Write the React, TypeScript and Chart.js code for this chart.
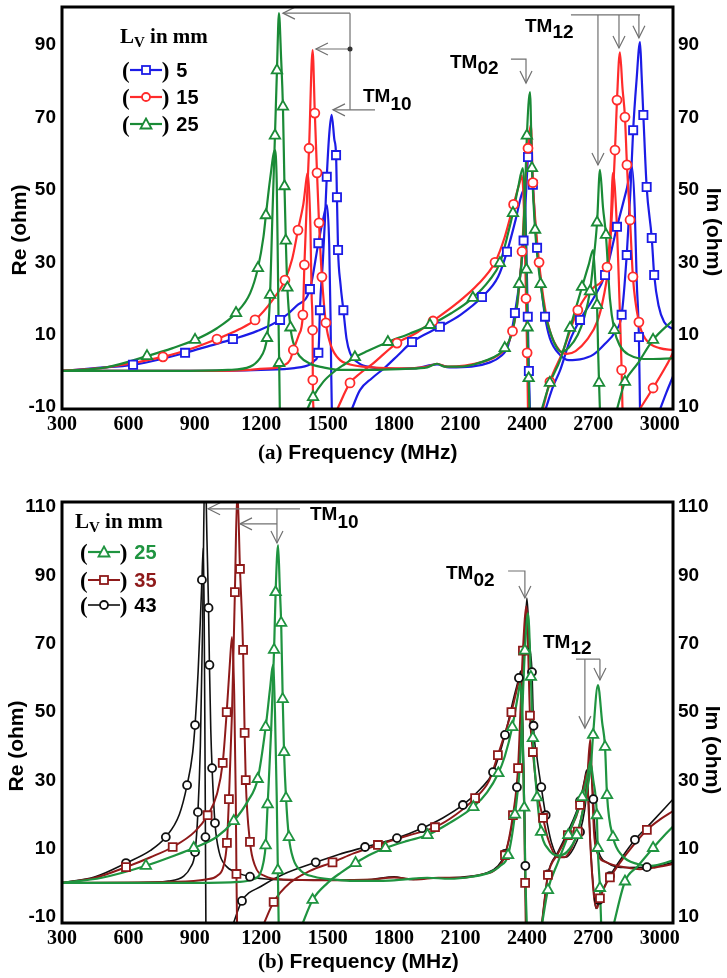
import { useEffect, useRef } from "react";
import { Chart, registerables } from "chart.js";

Chart.register(...registerables);

// [frequency MHz, ohm, sampled-symbol flag]
type Pt = [number, number | null, number?];

const X_TICKS = [300, 600, 900, 1200, 1500, 1800, 2100, 2400, 2700, 3000];
const A_Y_TICKS = [-10, 10, 30, 50, 70, 90];
const B_Y_TICKS = [-10, 10, 30, 50, 70, 90, 110];
const A_LV = ["5", "15", "25"];
const B_LV = ["25", "35", "43"];

// ---------- (a) Lv = 25 ----------
const A25_RE: Pt[] = [[300,0],[800,0],[1050,0.3],[1150,1.2],[1194,3.5],[1215,6],[1226,9.1,1],[1235,15],[1240,21,1],[1250,42],[1262,65,1],[1271,83,1],[1280,98.8],[1290,86],[1298,73,1],[1305,51,1],[1311,36,1],[1318,23,1],[1332,12,1],[1352,6.5],[1375,4],[1420,2],[1480,1],[1560,0.3],[1700,0.3],[1850,0.6],[1950,1],[1994,2],[2030,1.2],[2100,1.2],[2160,1.8],[2220,3],[2270,4.5],[2300,6.3,1],[2330,10],[2355,18],[2365,24,1],[2378,31.5],[2392,50],[2400,65,1],[2414,77],[2423,56,1],[2437,39,1],[2450,30],[2462,24,1],[2482,16],[2504,11],[2530,7],[2555,5.3],[2590,6.5],[2630,10],[2660,15],[2685,22,1],[2700,30],[2717,41,1],[2730,55.5],[2744,45],[2757,37.6,1],[2775,20],[2795,11.3,1],[2820,7],[2860,4.5],[2956,3.3],[3060,3.5]];
const A25_IM: Pt[] = [[300,0],[500,1],[684,4.1,1],[800,6.3],[901,8.6,1],[1000,11.8],[1086,16,1],[1150,21.5],[1185,28.4,1],[1210,37],[1221,43,1],[1240,53],[1262,61],[1270,52],[1275,30],[1279,10],[1281,2.2,1],[1284,-11],[1300,null],[1405,-11],[1434,-7.2,1],[1480,-3],[1533,0],[1580,2],[1623,3.8,1],[1680,5.5],[1772,8,1],[1870,10.3],[1962,12.7,1],[2060,16],[2156,20.2,1],[2230,25],[2278,29.8,1],[2315,38],[2337,43.6,1],[2360,50.5],[2382,56],[2392,45],[2398,28,1],[2403,12,1],[2408,-2,1],[2412,-11],[2440,null],[2465,-11],[2504,-3.3,1],[2550,3],[2595,11.9,1],[2649,23.2,1],[2680,29.5],[2699,33.4],[2710,24],[2717,18.2,1],[2722,5],[2726,-3.3,1],[2730,-11],[2760,null],[2805,-11],[2843,-3,1],[2900,2],[2970,8.6,1],[3060,14]];

// ---------- (a) Lv = 15 ----------
const A15_RE: Pt[] = [[300,0],[900,0],[1150,0.3],[1194,0.6],[1260,0.8],[1300,1.5],[1330,3],[1345,5.8,1],[1370,10],[1388,15.5,1],[1395,29.3,1],[1405,45],[1416,61.5,1],[1432,88.6],[1442,71.2,1],[1452,54.7,1],[1461,40.9,1],[1474,26,1],[1492,13.3,1],[1515,7],[1556,3],[1601,1.8],[1700,1],[1850,0.7],[1950,1.2],[1994,2],[2040,1.2],[2120,1.5],[2200,2.5],[2260,4],[2300,6],[2335,11,1],[2360,20],[2378,33,1],[2396,55],[2405,61.5,1],[2418,68],[2427,52,1],[2440,40],[2455,30,1],[2475,20],[2504,11],[2549,5.5],[2580,4.7],[2620,5.5],[2670,8.5],[2720,14],[2745,20],[2770,30],[2790,50],[2798,61,1],[2807,74.8,1],[2820,88],[2832,78],[2843,70.1,1],[2852,56.9,1],[2866,41.7,1],[2879,26,1],[2906,13.5,1],[2940,8.5],[3000,6.3],[3060,5.8]];
const A15_IM: Pt[] = [[300,0],[500,1],[756,3.9,1],[900,6.5],[1000,8.8,1],[1100,11.5],[1172,14.1,1],[1250,19.5],[1307,25.1,1],[1340,31],[1366,38.9,1],[1390,46],[1411,54.7],[1422,40],[1428,20],[1432,11.3,1],[1433,-2.5,1],[1436,-11],[1480,null],[1540,-11],[1601,-3.3,1],[1650,-0.5],[1700,1.8],[1813,7.7,1],[1900,10.5],[1976,13.8,1],[2080,18.5],[2180,24],[2256,30,1],[2300,37],[2340,46,1],[2365,51.5],[2378,54],[2388,42],[2396,20,1],[2401,5,1],[2405,-11],[2440,null],[2470,-11],[2504,-3,1],[2560,5],[2630,16.8,1],[2700,23],[2762,28.7,1],[2778,40],[2789,54.7],[2805,42],[2818,20],[2828,0.3,1],[2832,-11],[2870,null],[2905,-11],[2970,-4.7,1],[3030,1.5],[3060,5]];

// ---------- (a) Lv = 5 ----------
const A5_RE: Pt[] = [[300,0],[900,0],[1200,0.3],[1350,0.8],[1420,1.8],[1443,3],[1458,5,1],[1462,10],[1465,16.8,1],[1478,30],[1488,42],[1496,53.6,1],[1508,66],[1518,70.7],[1530,64],[1538,59.6,1],[1542,48,1],[1547,33.4,1],[1558,24],[1571,16.8,1],[1585,9],[1601,5],[1640,2.2],[1700,1],[1800,0.6],[1900,0.8],[1994,1.8],[2050,1],[2150,1.2],[2230,2.3],[2280,4],[2315,7],[2346,16,1],[2369,26],[2385,36,1],[2397,50],[2405,59.1,1],[2416,65],[2427,51.4,1],[2436,42],[2446,34,1],[2462,25],[2482,15,1],[2504,9],[2549,4.5],[2590,3],[2640,3.2],[2700,4.5],[2753,7.5],[2800,11],[2828,15.5,1],[2851,32,1],[2868,50],[2880,66.5,1],[2895,80],[2911,90.8],[2918,82],[2926,70.7,1],[2941,50.8,1],[2964,36.7,1],[2975,26.5,1],[2995,18],[3020,13.5],[3060,11.5]];
const A5_IM: Pt[] = [[300,0],[450,0.8],[621,1.7,1],[750,3.3],[856,5,1],[970,7],[1072,8.8,1],[1180,11],[1285,14.1,1],[1360,18],[1420,22.6,1],[1458,35.3,1],[1480,42],[1497,45.8],[1507,35],[1513,15],[1516,0],[1519,-11],[1560,null],[1606,-11],[1646,-5.3],[1700,-2],[1760,1],[1820,4.5],[1881,8,1],[2007,12.2,1],[2100,15.5],[2197,20.4,1],[2270,26],[2310,32.9,1],[2350,42],[2375,48.5],[2387,50],[2397,35],[2404,15,1],[2409,0,1],[2414,-11],[2450,null],[2482,-11],[2520,-4],[2549,0],[2595,8.5],[2640,14.1,1],[2700,20],[2753,26.5,1],[2807,39.8,1],[2850,50],[2875,56.3],[2887,45],[2896,25],[2906,9.4,1],[2911,-11],[2950,null],[2999,-11],[3030,-6],[3060,-1.5]];

// ---------- (b) Lv = 25 ----------
const B25_RE: Pt[] = [[300,0],[900,0],[1100,0.3],[1160,1],[1194,2.5],[1210,6],[1220,11,1],[1229,23,1],[1245,45],[1258,68.2,1],[1265,85.1,1],[1276,98.9],[1284,86],[1290,76.1,1],[1297,53.8,1],[1303,38.3,1],[1312,24.8,1],[1325,13.4,1],[1345,7],[1380,3.5],[1440,1.8],[1520,1],[1600,0.6],[1750,0.6],[1850,1],[1950,1.5],[2050,1.2],[2150,1.8],[2230,3],[2280,5],[2315,8.1,1],[2346,20,1],[2369,35],[2391,68,1],[2405,79],[2418,60.3,1],[2427,42.4,1],[2446,25,1],[2464,14.9,1],[2495,10],[2540,8],[2580,9],[2625,14,1],[2665,25],[2690,35],[2699,43.3,1],[2721,57.9],[2740,47],[2753,39.8,1],[2762,25.7,1],[2789,13.4,1],[2830,8],[2900,5.5],[2960,5],[3060,6.5]];
const B25_IM: Pt[] = [[300,0],[480,1.5],[679,5,1],[800,7.8],[895,10.2,1],[1000,13.5],[1076,18.1,1],[1140,24],[1184,30.4,1],[1220,45.6,1],[1240,57],[1253,63.8],[1262,50],[1270,25],[1275,3.7,1],[1279,-13],[1320,null],[1380,-13],[1432,-5,1],[1500,0],[1560,3],[1626,5.8,1],[1700,8.5],[1761,10.2,1],[1860,12.3],[1951,14,1],[2050,17.5],[2158,22.2,1],[2220,26.5],[2271,32.1,1],[2300,37],[2334,45.6,1],[2360,55],[2370,58.5],[2380,45],[2388,22,1],[2394,0],[2400,-13],[2430,null],[2466,-13],[2495,-2.1,1],[2540,6],[2587,14,1],[2650,25.1,1],[2675,32],[2686,35.4],[2700,30],[2716,19.8,1],[2720,10.2,1],[2730,-1.5,1],[2736,-13],[2760,null],[2789,-13],[2843,0.4,1],[2900,4.8],[2970,10.2,1],[3030,14.5],[3060,16.5]];

// ---------- (b) Lv = 35 ----------
const B35_RE: Pt[] = [[300,0],[800,0.3],[950,1],[1000,2],[1030,5],[1045,11.7,1],[1054,24.5,1],[1068,50],[1081,85.1,1],[1092,115],[1104,91.9,1],[1118,68.2,1],[1125,43.9,1],[1130,30.1,1],[1149,12,1],[1172,5],[1217,2],[1300,1],[1500,0.8],[1700,1],[1800,1.6],[1900,1],[2000,1.5],[2100,1.5],[2200,2.5],[2260,4],[2301,8.1,1],[2337,19.8,1],[2360,33.6,1],[2382,68,1],[2398,81],[2414,49,1],[2427,38.3,1],[2446,27],[2473,19,1],[2495,13],[2540,7.5],[2570,7.5],[2600,10],[2630,15,1],[2655,22],[2672,30],[2686,42],[2694,30],[2703,15],[2717,9],[2760,6],[2850,4.5],[2911,4],[2980,4.5],[3060,5.5]];
const B35_IM: Pt[] = [[300,0],[450,1.5],[589,4.6,1],[700,7.5],[800,10.5,1],[900,15],[958,19.8,1],[1000,26],[1026,35.1,1],[1044,50,1],[1058,64],[1068,72],[1078,55],[1085,25],[1088,2.6,1],[1091,-13],[1150,null],[1205,-13],[1256,-5.6,1],[1330,0],[1420,3.5],[1522,6,1],[1620,8.7],[1727,11.1,1],[1860,13.8],[1985,16.3,1],[2080,20],[2166,24.8,1],[2230,30],[2269,37.4,1],[2330,50,1],[2360,58],[2369,60],[2380,45],[2388,20],[2392,0,1],[2395,-13],[2430,null],[2466,-13],[2480,-5],[2495,2.3,1],[2540,8.5],[2585,14,1],[2640,22.8,1],[2662,30],[2670,32],[2680,20],[2692,5],[2705,-5],[2717,-7.4],[2730,-4.5,1],[2760,0],[2775,1.6,1],[2850,8.5],[2942,15.5,1],[3000,18.5],[3060,21]];

// ---------- (b) Lv = 43 ----------
const B43_RE: Pt[] = [[300,0],[650,0],[780,0.5],[850,2],[880,4.5],[901,9,1],[914,20.7,1],[925,40],[935,75],[946,125],[955,100],[962,80.5,1],[966,63.8,1],[972,45],[978,33.6,1],[991,17.5,1],[1010,9],[1040,5],[1090,3],[1149,1.8,1],[1250,1],[1400,0.8],[1600,0.8],[1700,1],[1800,1.8],[1870,1],[1950,1.5],[2050,1.5],[2150,2],[2220,3],[2270,5],[2301,8.5,1],[2330,16],[2355,28,1],[2375,45],[2388,68,1],[2400,83.4],[2412,70],[2423,61.7,1],[2430,46,1],[2445,37],[2465,28,1],[2485,19.8,1],[2510,12],[2545,7.5],[2575,7.5],[2610,10],[2640,14.9,1],[2660,21],[2675,30],[2685,40],[2694,30],[2700,24.5,1],[2708,15],[2725,9],[2760,6],[2850,4.5],[2942,4.6,1],[3000,5],[3060,6]];
const B43_IM: Pt[] = [[300,0],[450,1.8],[589,5.8,1],[700,9.5],[769,13.4,1],[830,20],[865,28.6,1],[890,38],[901,46.2,1],[915,62],[925,77],[932,88.7,1],[938,98],[942,80],[945,50],[948,13.4,1],[950,-13],[1000,null],[1068,-13],[1113,-5.3,1],[1200,-1],[1300,2.5],[1446,6,1],[1550,8.3],[1669,10.5,1],[1813,13.1,1],[1926,16,1],[2020,19],[2111,22.8,1],[2190,27.5],[2247,32.4,1],[2301,43.3,1],[2340,54],[2364,60,1],[2372,62],[2382,45],[2390,20],[2393,5,1],[2396,-13],[2430,null],[2466,-13],[2480,-5],[2495,2.5,1],[2540,9],[2585,15],[2640,24,1],[2660,30],[2670,33],[2678,25],[2688,10],[2700,-1],[2712,-7.5],[2725,-5,1],[2750,-1],[2775,2,1],[2830,7.5],[2888,12.6,1],[2960,17.5],[3060,24.5]];

// ---------- annotation brackets (data coordinates) ----------
type Arrow = { pts: [number, number][]; head?: "left" | "down" };
const A_ARROWS: Arrow[] = [
  { pts: [[1601, 98.8], [1601, 72.1]] },
  { pts: [[1601, 98.8], [1298, 98.8]], head: "left" },
  { pts: [[1601, 88.9], [1447, 88.9]], head: "left" },
  { pts: [[1714, 72.1], [1524, 72.1]], head: "left" },
  { pts: [[2328, 86.1], [2396, 86.1], [2396, 79.5]], head: "down" },
  { pts: [[2599, 98.3], [2911, 98.3]] },
  { pts: [[2721, 98.3], [2721, 56.9]], head: "down" },
  { pts: [[2816, 98.3], [2816, 89.2]], head: "down" },
  { pts: [[2906, 98.3], [2906, 92]], head: "down" },
];
const A_DOTS: [number, number][] = [[1601, 88.9]];
const B_ARROWS: Arrow[] = [
  { pts: [[1375, 109.5], [960, 109.5]], head: "left" },
  { pts: [[1271, 109.5], [1271, 99.5]], head: "down" },
  { pts: [[1271, 105.1], [1104, 105.1]], head: "left" },
  { pts: [[2315, 91.3], [2391, 91.3], [2391, 83.4]], head: "down" },
  { pts: [[2622, 65.5], [2730, 65.5]] },
  { pts: [[2662, 65.5], [2662, 45.3]], head: "down" },
  { pts: [[2730, 65.5], [2730, 59.4]], head: "down" },
];

const SANS = "'Liberation Sans', Arial, Helvetica, sans-serif";
const SERIF = "'Liberation Serif', 'Times New Roman', serif";

const C_BLUE = "#1c1ce6";
const C_RED = "#ff2b2b";
const C_GREEN = "#1a8a36";
const C_BGREEN = "#1f9440";
const C_DRED = "#8e1a1a";
const C_BLACK = "#111111";

function series(pts: Pt[], color: string, width: number, shape: string, radius: number) {
  return [
    {
      data: pts.map((p) => ({ x: p[0], y: p[1] })),
      borderColor: color,
      borderWidth: width,
      pointRadius: 0,
      pointHoverRadius: 0,
      cubicInterpolationMode: "monotone",
      spanGaps: false,
      fill: false,
      order: 1,
    },
    {
      data: pts.filter((p) => p[2]).map((p) => ({ x: p[0], y: p[1] })),
      showLine: false,
      pointStyle: shape,
      pointRadius: radius,
      pointHoverRadius: radius,
      pointBorderWidth: 1.8,
      pointBorderColor: color,
      pointBackgroundColor: "#ffffff",
      order: 0,
    },
  ];
}

function decor(arrows: Arrow[], dots: [number, number][]) {
  return {
    id: "decor",
    afterDraw(chart: any) {
      const { ctx, chartArea: a, scales } = chart;
      const xs = scales.x;
      const ys = scales.y;
      ctx.save();
      ctx.strokeStyle = "#707070";
      ctx.lineWidth = 1.2;
      for (const ar of arrows) {
        const p = ar.pts.map(([f, v]) => [xs.getPixelForValue(f), ys.getPixelForValue(v)]);
        ctx.beginPath();
        p.forEach(([x, y], i) => (i ? ctx.lineTo(x, y) : ctx.moveTo(x, y)));
        ctx.stroke();
        if (ar.head) {
          const [tx, ty] = p[p.length - 1];
          ctx.beginPath();
          if (ar.head === "left") {
            ctx.moveTo(tx + 12, ty - 6);
            ctx.lineTo(tx, ty);
            ctx.lineTo(tx + 12, ty + 6);
          } else {
            ctx.moveTo(tx - 6, ty - 12);
            ctx.lineTo(tx, ty);
            ctx.lineTo(tx + 6, ty - 12);
          }
          ctx.stroke();
        }
      }
      ctx.fillStyle = "#333";
      for (const [f, v] of dots) {
        ctx.beginPath();
        ctx.arc(xs.getPixelForValue(f), ys.getPixelForValue(v), 2.5, 0, Math.PI * 2);
        ctx.fill();
      }
      ctx.strokeStyle = "#000";
      ctx.lineWidth = 3;
      ctx.strokeRect(a.left, a.top, a.right - a.left, a.bottom - a.top);
      ctx.restore();
    },
  };
}

function makeConfig(o: {
  datasets: any[];
  yMin: number;
  yMax: number;
  yTicks: number[];
  padTop: number;
  xHeight: number;
  arrows: Arrow[];
  dots: [number, number][];
}) {
  const yTickFont = { family: SANS, size: 19, weight: "bold" as const };
  return {
    type: "line" as const,
    data: { datasets: o.datasets },
    options: {
      responsive: false,
      animation: false,
      devicePixelRatio: 1,
      events: [],
      layout: { padding: { top: o.padTop, left: 0, right: 0, bottom: 0 }, autoPadding: false },
      plugins: { legend: { display: false }, tooltip: { enabled: false } },
      scales: {
        x: {
          type: "linear",
          min: 300,
          max: 3060,
          afterBuildTicks: (s: any) => {
            s.ticks = X_TICKS.map((v) => ({ value: v }));
          },
          afterFit: (s: any) => {
            s.height = o.xHeight;
            s.paddingLeft = 0;
            s.paddingRight = 0;
          },
          grid: { display: false, drawTicks: false },
          border: { display: false },
          ticks: {
            autoSkip: false,
            maxRotation: 0,
            padding: 4,
            color: "#000",
            font: { family: SERIF, size: 20, weight: "bold" },
            callback: (v: any) => String(v),
          },
        },
        y: {
          type: "linear",
          position: "left",
          min: o.yMin,
          max: o.yMax,
          afterBuildTicks: (s: any) => {
            s.ticks = o.yTicks.map((v) => ({ value: v }));
          },
          afterFit: (s: any) => {
            s.width = 62;
            s.paddingTop = 0;
            s.paddingBottom = 0;
          },
          grid: { display: false, drawTicks: false },
          border: { display: false },
          ticks: { autoSkip: false, padding: 6, color: "#000", font: yTickFont, callback: (v: any) => String(v) },
        },
        y2: {
          type: "linear",
          position: "right",
          min: o.yMin,
          max: o.yMax,
          afterBuildTicks: (s: any) => {
            s.ticks = o.yTicks.map((v) => ({ value: v }));
          },
          afterFit: (s: any) => {
            s.width = 54;
            s.paddingTop = 0;
            s.paddingBottom = 0;
          },
          grid: { display: false, drawTicks: false },
          border: { display: false },
          ticks: { autoSkip: false, padding: 5, color: "#000", font: yTickFont, callback: (v: any) => String(Math.abs(v)) },
        },
      },
    },
    plugins: [decor(o.arrows, o.dots)],
  };
}

function Abs(props: { left: number; top: number; style?: any; children?: any }) {
  return (
    <div style={{ position: "absolute", left: props.left, top: props.top, whiteSpace: "nowrap", lineHeight: 1, color: "#000", ...props.style }}>
      {props.children}
    </div>
  );
}

function TM(props: { left: number; top: number; sub: string; off: number }) {
  return (
    <Abs left={props.left} top={props.top} style={{ font: `bold 19px ${SANS}` }}>
      TM<span style={{ position: "relative", top: props.off }}>{props.sub}</span>
    </Abs>
  );
}

function Sym(props: { color: string; shape: string; lw: number }) {
  const { color, shape, lw } = props;
  return (
    <svg width={32} height={14} style={{ display: "block" }}>
      <line x1={0} y1={7} x2={32} y2={7} stroke={color} strokeWidth={lw} />
      {shape === "rect" && <rect x={12} y={3} width={8} height={8} fill="#fff" stroke={color} strokeWidth={1.8} />}
      {shape === "circle" && <circle cx={16} cy={7} r={4} fill="#fff" stroke={color} strokeWidth={1.8} />}
      {shape === "triangle" && <polygon points="16,1.5 21.5,11.5 10.5,11.5" fill="#fff" stroke={color} strokeWidth={1.8} />}
    </svg>
  );
}

function LegRow(props: { left: number; cy: number; color: string; shape: string; label: string; textColor: string; lw: number; gap: number }) {
  return (
    <div style={{ position: "absolute", left: props.left, top: props.cy - 13, height: 26, display: "flex", alignItems: "center", whiteSpace: "nowrap" }}>
      <span style={{ font: `bold 23px ${SERIF}`, lineHeight: 1 }}>(</span>
      <Sym color={props.color} shape={props.shape} lw={props.lw} />
      <span style={{ font: `bold 23px ${SERIF}`, lineHeight: 1 }}>)</span>
      <span style={{ font: `bold 20px ${SANS}`, lineHeight: 1, marginLeft: props.gap, color: props.textColor }}>{props.label}</span>
    </div>
  );
}

function VText(props: { cx: number; cy: number; text: string; rot: number }) {
  return (
    <div
      style={{
        position: "absolute",
        left: props.cx - 70,
        top: props.cy - 12,
        width: 140,
        height: 24,
        lineHeight: "24px",
        textAlign: "center",
        font: `bold 21px ${SANS}`,
        whiteSpace: "nowrap",
        transform: `rotate(${props.rot}deg)`,
        transformOrigin: "center center",
        color: "#000",
      }}
    >
      {props.text}
    </div>
  );
}

export default function App() {
  const topRef = useRef<HTMLCanvasElement>(null);
  const botRef = useRef<HTMLCanvasElement>(null);

  useEffect(() => {
    const cfgA: any = makeConfig({
      datasets: [
        ...series(A25_RE, C_GREEN, 2.2, "triangle", 6),
        ...series(A25_IM, C_GREEN, 2.2, "triangle", 6),
        ...series(A15_RE, C_RED, 2.2, "circle", 4.5),
        ...series(A15_IM, C_RED, 2.2, "circle", 4.5),
        ...series(A5_RE, C_BLUE, 2.2, "rect", 5.8),
        ...series(A5_IM, C_BLUE, 2.2, "rect", 5.8),
      ],
      yMin: -10.5,
      yMax: 100.5,
      yTicks: A_Y_TICKS,
      padTop: 7,
      xHeight: 51,
      arrows: A_ARROWS,
      dots: A_DOTS,
    });
    const cfgB: any = makeConfig({
      datasets: [
        ...series(B25_RE, C_BGREEN, 2.2, "triangle", 6),
        ...series(B25_IM, C_BGREEN, 2.2, "triangle", 6),
        ...series(B35_RE, C_DRED, 2, "rect", 5.6),
        ...series(B35_IM, C_DRED, 2, "rect", 5.6),
        ...series(B43_RE, C_BLACK, 1.6, "circle", 4),
        ...series(B43_IM, C_BLACK, 1.6, "circle", 4),
      ],
      yMin: -11.75,
      yMax: 111.5,
      yTicks: B_Y_TICKS,
      padTop: 22,
      xHeight: 55,
      arrows: B_ARROWS,
      dots: [],
    });
    const c1 = new Chart(topRef.current as HTMLCanvasElement, cfgA);
    const c2 = new Chart(botRef.current as HTMLCanvasElement, cfgB);
    return () => {
      c1.destroy();
      c2.destroy();
    };
  }, []);

  return (
    <div style={{ position: "absolute", left: 0, top: 0, width: 727, height: 978, background: "#fff", overflow: "hidden" }}>
      <canvas ref={topRef} width={727} height={460} style={{ position: "absolute", left: 0, top: 0, width: 727, height: 460 }} />
      <canvas ref={botRef} width={727} height={498} style={{ position: "absolute", left: 0, top: 480, width: 727, height: 498 }} />

      {/* panel (a) */}
      <Abs left={120} top={24} style={{ font: `bold 21px ${SERIF}` }}>
        L<span style={{ fontSize: 15, position: "relative", top: 4 }}>V</span> in mm
      </Abs>
      <LegRow left={122} cy={70} color={C_BLUE} shape="rect" label={A_LV[0]} textColor="#000" lw={2.2} gap={7} />
      <LegRow left={122} cy={97} color={C_RED} shape="circle" label={A_LV[1]} textColor="#000" lw={2.2} gap={7} />
      <LegRow left={122} cy={124} color={C_GREEN} shape="triangle" label={A_LV[2]} textColor="#000" lw={2.2} gap={7} />
      <TM left={363} top={85} sub="10" off={8} />
      <TM left={450} top={51} sub="02" off={6} />
      <TM left={525} top={15} sub="12" off={6} />
      <Abs left={258} top={440} style={{ font: `bold 21px ${SANS}` }}>
        <span style={{ fontFamily: SERIF }}>(a)</span> Frequency (MHz)
      </Abs>
      <VText cx={19} cy={230} text="Re (ohm)" rot={-90} />
      <VText cx={714} cy={232} text="Im (ohm)" rot={90} />

      {/* panel (b) */}
      <Abs left={75} top={509} style={{ font: `bold 21px ${SERIF}` }}>
        L<span style={{ fontSize: 15, position: "relative", top: 4 }}>V</span> in mm
      </Abs>
      <LegRow left={80} cy={552} color={C_BGREEN} shape="triangle" label={B_LV[0]} textColor={C_BGREEN} lw={2.2} gap={7} />
      <LegRow left={80} cy={580} color={C_DRED} shape="rect" label={B_LV[1]} textColor={C_DRED} lw={2} gap={7} />
      <LegRow left={80} cy={605} color={C_BLACK} shape="circle" label={B_LV[2]} textColor="#000" lw={1.6} gap={7} />
      <TM left={310} top={503} sub="10" off={8} />
      <TM left={446} top={562} sub="02" off={7} />
      <TM left={543} top={631} sub="12" off={6} />
      <Abs left={258} top={949} style={{ font: `bold 21px ${SANS}` }}>
        <span style={{ fontFamily: SERIF }}>(b)</span> Frequency (MHz)
      </Abs>
      <VText cx={16} cy={746} text="Re (ohm)" rot={-90} />
      <VText cx={713} cy={750} text="Im (ohm)" rot={90} />
    </div>
  );
}
